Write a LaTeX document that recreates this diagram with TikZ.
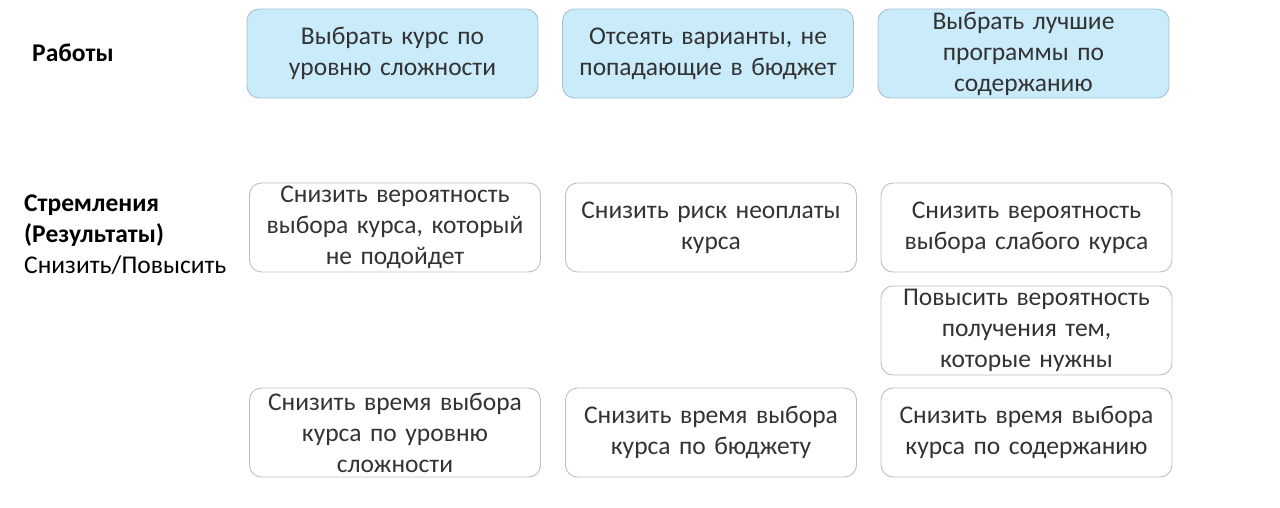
\documentclass[tikz,border=0pt]{standalone}
\usepackage{fontspec}
\setmainfont{Carlito}
\definecolor{jobfill}{HTML}{C9EBFA}
\definecolor{jobline}{HTML}{A7C3CE}
\definecolor{outline}{HTML}{BFBFBF}
\definecolor{txt}{HTML}{333333}
\begin{document}
\begin{tikzpicture}[x=1pt,y=-1pt,
  every node/.style={inner sep=0pt,text=txt,font=\fontsize{25.5}{31}\selectfont},
  job/.style={draw=jobline,fill=jobfill,line width=0.9pt,rounded corners=12pt,
    minimum width=291pt,minimum height=89pt,align=center,text width=280pt},
  outcome/.style={draw=outline,fill=white,line width=0.9pt,rounded corners=12pt,
    minimum width=291pt,minimum height=89pt,align=center,text width=280pt},
  rowlabel/.style={anchor=west,align=left,text=black}]
\useasboundingbox (0,0) rectangle (1280,508);
% left labels
\node [rowlabel] (jobs) at (32,53) {\textbf{Работы}};
\node [rowlabel] (goals) at (24,235) {\textbf{Стремления}\\\textbf{(Результаты)}\\Снизить/Повысить};
% jobs
\node [job] (j1) at (392.5,53.5) {Выбрать курс по\\уровню сложности};
\node [job] (j2) at (708,53.5) {Отсеять варианты, не\\попадающие в бюджет};
\node [job] (j3) at (1023.5,53.5) {Выбрать лучшие\\программы по\\содержанию};
% outcomes
\node [outcome] (o1) at (395,227.5) {Снизить вероятность\\выбора курса, который\\не подойдет};
\node [outcome] (o2) at (711,227.5) {Снизить риск неоплаты\\курса};
\node [outcome] (o3) at (1026.5,227.5) {Снизить вероятность\\выбора слабого курса};
\node [outcome] (o4) at (1026.5,330.5) {Повысить вероятность\\получения тем,\\которые нужны};
\node [outcome] (t1) at (395,432.5) {Снизить время выбора\\курса по уровню\\сложности};
\node [outcome] (t2) at (711,432.5) {Снизить время выбора\\курса по бюджету};
\node [outcome] (t3) at (1026.5,432.5) {Снизить время выбора\\курса по содержанию};
\end{tikzpicture}
\end{document}
